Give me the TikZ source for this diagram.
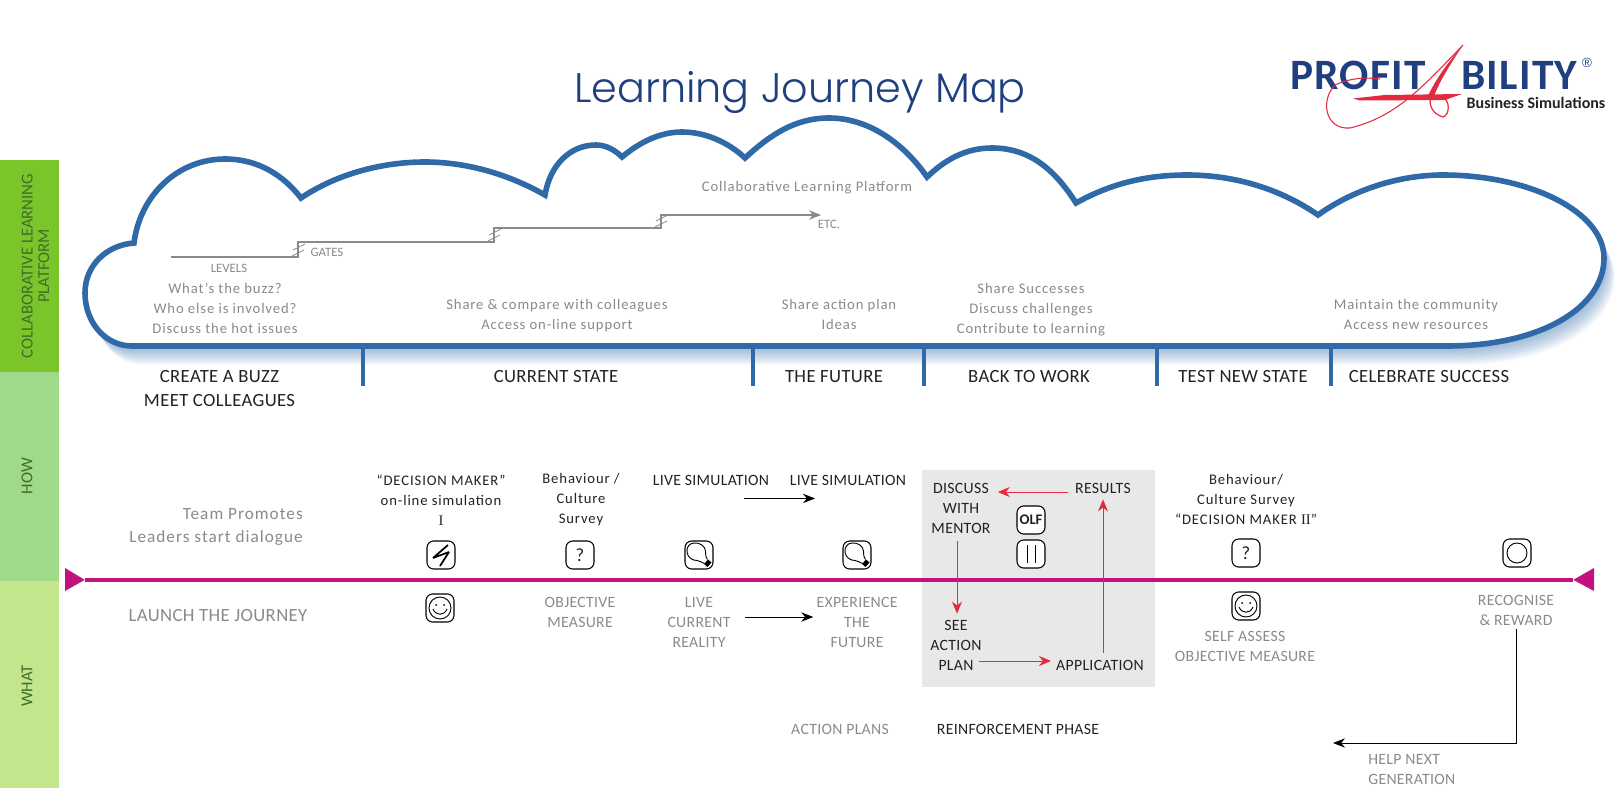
\documentclass[tikz,border=0pt]{standalone}
\usepackage{fontspec}
\setmainfont{Carlito}
\newfontfamily\titlefont{Poppins}[UprightFont=* Light]
\newfontfamily\spacedfont{Carlito}[LetterSpace=6]
\newfontfamily\midfont{Carlito}[LetterSpace=2]
\newfontfamily\logofont{Carlito}[LetterSpace=3]
\newfontfamily\romanfont{Liberation Serif}
\newfontfamily\markfont{Liberation Sans}
\usetikzlibrary{arrows.meta,calc}
\definecolor{cloudblue}{HTML}{2F69A8}
\definecolor{navy}{HTML}{1F3F7F}
\definecolor{magline}{HTML}{C2127E}
\definecolor{redline}{HTML}{E5293F}
\definecolor{txtgray}{HTML}{8A8A8A}
\definecolor{txtdark}{HTML}{222222}
\definecolor{barone}{HTML}{7AC52A}
\definecolor{bartwo}{HTML}{9FD98A}
\definecolor{barthree}{HTML}{C3E58B}
\definecolor{barink}{HTML}{3F6E2A}
\newcommand{\cloudshape}{(132,346) .. controls (105,346) and (85,322) .. (85,293) .. controls (85,265) and (107,245) .. (134,243)
 .. controls (140,195) and (178,159) .. (225,159) .. controls (258,159) and (283,175) .. (301,198)
 .. controls (335,175) and (380,162) .. (425,162) .. controls (468,162) and (510,175) .. (545,195)
 .. controls (550,165) and (570,145) .. (596,145) .. controls (606,145) and (615,150) .. (622,157)
 .. controls (640,142) and (660,132) .. (682,132) .. controls (705,132) and (728,142) .. (745,158)
 .. controls (770,135) and (795,118) .. (829,118) .. controls (870,118) and (905,145) .. (927,177)
 .. controls (945,160) and (965,148) .. (992,148) .. controls (1030,148) and (1055,170) .. (1076,203)
 .. controls (1110,184) and (1145,175) .. (1187,175) .. controls (1240,175) and (1285,192) .. (1318,215)
 .. controls (1350,192) and (1395,175) .. (1443,175) .. controls (1530,175) and (1604,212) .. (1604,258)
 .. controls (1604,308) and (1540,346) .. (1447,346) -- cycle}
\tikzset{
 x=0.75pt,y=-0.75pt,
 softtext/.style={yshift=-1.5pt,inner sep=0pt,align=center,text=txtgray,font=\spacedfont\fontsize{11}{15}\selectfont},
 caps/.style={yshift=-1.5pt,inner sep=0pt,align=center,text=txtgray,font=\midfont\fontsize{11.8}{15}\selectfont},
 capsdark/.style={yshift=-1.5pt,inner sep=0pt,align=center,text=txtdark,font=\midfont\fontsize{11.8}{15}\selectfont},
 phase/.style={yshift=-1.5pt,inner sep=0pt,align=center,text=txtdark,font=\midfont\fontsize{14}{18}\selectfont},
 survey/.style={yshift=-1.5pt,inner sep=0pt,align=center,text=txtdark,font=\spacedfont\fontsize{11}{15}\selectfont},
 small/.style={inner sep=0pt,text=txtgray,font=\fontsize{9.6}{10}\selectfont},
 bartext/.style={inner sep=0pt,align=center,rotate=90,text=barink,font=\fontsize{12.5}{12.5}\selectfont},
 iconbox/.style={draw=black,line width=0.8pt,rounded corners=5pt,minimum size=21pt,inner sep=0pt,fill=white,text=txtdark,font=\fontsize{14}{14}\selectfont},
 iconink/.style={draw=black,line width=0.7pt},
 tick/.style={draw=cloudblue,line width=2.7pt},
 stair/.style={draw=txtgray,line width=0.9pt},
 blackarrow/.style={draw=black,line width=0.7pt,-{Stealth[length=9pt,width=7pt]}},
 redarrow/.style={draw=redline,line width=0.7pt,-{Stealth[length=9pt,width=7.5pt]}},
 smiley/.pic={
   \draw[iconink] (0,0) circle (11);
   \fill (-4,-3) circle (1); \fill (4,-3) circle (1);
   \draw[iconink] (-7,1) .. controls (-4,8) and (4,8) .. (7,1);
 },
 bulb/.pic={
   \draw[iconink] (8.5,4.5) .. controls (6,1) and (7,-1) .. (6.5,-4) .. controls (6,-9) and (1,-12.5) .. (-5,-12)
     .. controls (-10,-11.5) and (-12.5,-8) .. (-12,-3) .. controls (-11.5,3) and (-6,5.5) .. (-2,5.5)
     .. controls (0,5.5) and (3,7.5) .. (5.5,8.5);
   \fill (5,9) -- (9,4.5) -- (12.5,7.5) -- (8.5,12) -- cycle;
 },
}
\begin{document}
\begin{tikzpicture}
\useasboundingbox (0,0) rectangle (1616,788);
% side bars
\fill[barone] (0,160) rectangle (59,372);
\fill[bartwo] (0,372) rectangle (59,581);
\fill[barthree] (0,581) rectangle (59,788);
\node[bartext] (barcollab) at (35.5,266) {COLLABORATIVE LEARNING\\PLATFORM};
\node[bartext] (barhow) at (27,476) {HOW};
\node[bartext] (barwhat) at (27,686) {WHAT};
% title
\node[inner sep=0pt,text=navy,font=\titlefont\fontsize{31}{36}\selectfont] (title) at (800,92) {Learning Journey Map};
% logo
\node[inner sep=0pt,text=navy,anchor=west,font=\logofont\bfseries\fontsize{32.5}{33}\selectfont] (logoa) at (1290,75) {PROFIT};
\node[inner sep=0pt,text=navy,anchor=west,font=\logofont\bfseries\fontsize{32.5}{33}\selectfont] (logob) at (1461,75) {BILITY};
\node[inner sep=0pt,text=navy,font=\markfont\fontsize{10}{10}\selectfont] (logor) at (1587,63) {®};
\node[inner sep=0pt,text=txtdark,font=\bfseries\fontsize{12}{12}\selectfont] (logoc) at (1536,103) {Business Simulations};
\fill[redline] (1463,45) .. controls (1452,62) and (1441,78) .. (1434,96) -- (1428,96) .. controls (1436,78) and (1450,60) .. (1463,45) -- cycle;
\fill[redline] (1353,98.5) -- (1385,95) -- (1462,94) -- (1445,100) -- (1360,100.5) -- cycle;
\draw[redline,line width=0.9pt] (1431,96) .. controls (1428,106) and (1433,114) .. (1443,117) .. controls (1450,115) and (1450,100) .. (1443,98);
\draw[redline,line width=0.8pt] (1463,45) .. controls (1420,90) and (1395,117) .. (1350,128) .. controls (1325,130) and (1320,100) .. (1335,85) .. controls (1350,78) and (1365,77) .. (1380,79);
% cloud
\foreach \i in {1,...,18}{
  \fill[cloudblue,opacity=0.035,shift={({\i*0.6},{\i*1.05})}] \cloudshape;
}
\fill[white] \cloudshape;
\draw[cloudblue,line width=4.2pt,line join=miter] \cloudshape;
\draw[tick] (363,346) -- (363,386);
\draw[tick] (753,346) -- (753,386);
\draw[tick] (924,346) -- (924,386);
\draw[tick] (1157,346) -- (1157,386);
\draw[tick] (1331,346) -- (1331,386);
% stair
\coordinate (stairstart) at (171,257);
\coordinate (stairend) at (821,215);
\draw[stair,-{Stealth[length=9pt,width=7pt]}] (stairstart) -- (298,257) -- (298,242) -- (494,242) -- (494,228) -- (661,228) -- (661,215) -- (stairend);
\draw[stair,line width=0.6pt] (292,256) -- (304,250) (293,250) -- (305,244);
\draw[stair,line width=0.6pt] (488,241) -- (500,235) (489,235) -- (501,229);
\draw[stair,line width=0.6pt] (655,227) -- (667,221) (656,221) -- (668,215);
\node[small] (levels) at (229,268) {LEVELS};
\node[small] (gates) at (327,252) {GATES};
\node[small] (etc) at (829,224) {ETC.};
\node[softtext] (platform) at (807,186) {Collaborative Learning Platform};
\node[softtext] (buzz) at (225,306) {What’s the buzz?\\Who else is involved?\\Discuss the hot issues};
\node[softtext] (share) at (557,314) {Share \& compare with colleagues\\Access on-line support};
\node[softtext] (plan) at (839,312) {Share action plan\\Ideas};
\node[softtext] (succ) at (1031,308) {Share Successes\\Discuss challenges\\Contribute to learning};
\node[softtext] (maint) at (1416,312) {Maintain the community\\Access new resources};
% phases
\node[phase] (p1) at (219.5,387) {CREATE A BUZZ\\MEET COLLEAGUES};
\node[phase] (p2) at (556,375) {CURRENT STATE};
\node[phase] (p3) at (834,375) {THE FUTURE};
\node[phase] (p4) at (1029,375) {BACK TO WORK};
\node[phase] (p5) at (1243,375) {TEST NEW STATE};
\node[phase] (p6) at (1429,375) {CELEBRATE SUCCESS};
% grey box
\fill[black!9] (922,470) rectangle (1155,687);
% main line
\node[inner sep=0pt,minimum size=0pt] (linel) at (85,580) {};
\node[inner sep=0pt,minimum size=0pt] (liner) at (1573,580) {};
\draw[magline,line width=3.2pt] (linel) -- (liner);
\fill[magline] (linel) -- (65,568) -- (65,591) -- cycle;
\fill[magline] (liner) -- (1594,568) -- (1594,591) -- cycle;
% left labels
\node[inner sep=0pt,anchor=east,text=txtgray,font=\spacedfont\fontsize{12.9}{17}\selectfont,align=right] (team) at (303,527) {Team Promotes\\Leaders start dialogue};
\node[inner sep=0pt,text=txtgray,font=\midfont\fontsize{14}{15}\selectfont] (launch) at (218,616) {LAUNCH THE JOURNEY};
% top texts
\node[survey] (dm) at (441,498) {“DECISION MAKER”\\on-line simulation\\{\romanfont I}};
\node[survey] (bc) at (581,498) {Behaviour /\\Culture\\Survey};
\node[capsdark] (ls1) at (711,478) {LIVE SIMULATION};
\node[capsdark] (ls2) at (848,478) {LIVE SIMULATION};
\node[survey] (bc2) at (1246,497) {Behaviour/\\Culture Survey\\“DECISION MAKER {\romanfont II}”};
% bottom texts
\node[caps] (om) at (580,610.5) {OBJECTIVE\\MEASURE};
\node[caps] (lcr) at (699,620) {LIVE\\CURRENT\\REALITY};
\node[caps] (etf) at (857,620) {EXPERIENCE\\THE\\FUTURE};
\node[caps] (sa) at (1245,644) {SELF ASSESS\\OBJECTIVE MEASURE};
\node[caps] (rr) at (1516,608) {RECOGNISE\\\& REWARD};
\node[caps,align=left,anchor=north west] (help) at (1368,752.5) {HELP NEXT\\GENERATION};
\node[caps] (ap) at (840,727) {ACTION PLANS};
\node[capsdark] (rp) at (1018,727) {REINFORCEMENT PHASE};
% icons
\node[iconbox] (i1) at (441,555) {};
\draw[black,line width=1.3pt,line join=bevel] ($(i1)+(7,-10)$) -- ($(i1)+(-8,3)$) -- ($(i1)+(8,-3)$) -- ($(i1)+(-1,11)$);
\node[iconbox] (i2) at (580,555) {?};
\node[iconbox] (i3) at (699,555) {};
\pic at (i3) {bulb};
\node[iconbox] (i4) at (857,555) {};
\pic at (i4) {bulb};
\node[iconbox] (i5) at (440,608) {};
\pic at (i5) {smiley};
\node[iconbox] (i6) at (1246,553) {?};
\node[iconbox] (i7) at (1246,606) {};
\pic at (i7) {smiley};
\node[iconbox] (i8) at (1517,553) {};
\draw[iconink] (i8) circle (10);
\node[iconbox,font=\bfseries\fontsize{11}{11}\selectfont] (i9) at (1031,520) {OLF};
\node[iconbox] (i10) at (1031,554) {};
\draw[iconink] ($(i10)+(-4,-9)$) -- ($(i10)+(-4,9)$) ($(i10)+(4,-9)$) -- ($(i10)+(4,9)$);
% grey box texts
\node[capsdark] (discuss) at (961,506) {DISCUSS\\WITH\\MENTOR};
\node[capsdark] (results) at (1103,486) {RESULTS};
\node[capsdark] (see) at (956,643) {SEE\\ACTION\\PLAN};
\node[capsdark] (appl) at (1100,663) {APPLICATION};
\draw[redarrow] ([shift={(-7,4)}]results.west) -- ([shift={(7,-16)}]discuss.east);
\draw[redarrow] ([shift={(-4,8)}]discuss.south) -- ([shift={(1,-6)}]see.north);
\draw[redarrow] ([shift={(-3,16)}]see.east) -- ([shift={(-5,-4)}]appl.west);
\draw[redarrow] ([shift={(3,-7)}]appl.north) -- ([shift={(0,6)}]results.south);
% black arrows
\draw[blackarrow] ($(ls1.south)+(33,13)$) -- ($(ls2.south)+(-33,13)$);
\draw[blackarrow] ($(lcr.east)+(14,-5)$) -- ($(etf.west)+(-3,-5)$);
\coordinate (helpend) at (1333,743);
\draw[blackarrow] ([yshift=-2.5pt]rr.south) -- (rr.south |- helpend) -- (helpend);
\end{tikzpicture}
\end{document}
